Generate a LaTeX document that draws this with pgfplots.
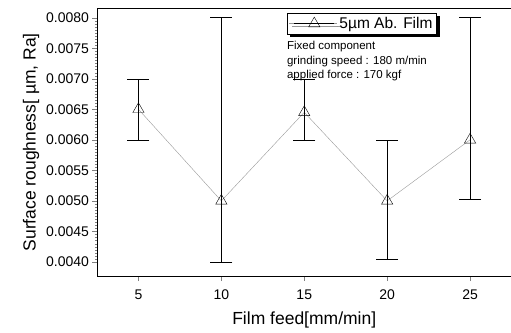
\documentclass[border=0pt]{standalone}
\usepackage{fontspec}
\setmainfont{Liberation Sans}
\usepackage{pgfplots}
\pgfplotsset{compat=1.18}
\usetikzlibrary{shadows}
\begin{document}
\begin{tikzpicture}
\begin{axis}[
  scale only axis, width=413.5pt, height=267.5pt,
  xmin=2.53, xmax=27.47, ymin=0.00377, ymax=0.00815,
  xtick={5,10,15,20,25},
  ytick={0.0040,0.0045,0.0050,0.0055,0.0060,0.0065,0.0070,0.0075,0.0080},
  minor y tick num=9,
  tick align=outside, xtick pos=left, ytick pos=left,
  major tick length=5pt, minor tick length=2.5pt,
  scaled y ticks=false,
  /pgf/number format/assume math mode=true,
  yticklabel style={/pgf/number format/.cd, fixed, fixed zerofill, precision=4, /tikz/.cd},
  xticklabel style={yshift=-5pt},
  ticklabel style={font=\fontsize{14}{14}\selectfont},
  xlabel={Film feed[mm/min]}, ylabel={Surface roughness[ µm, Ra]},
  xlabel style={yshift=-6pt},
  label style={font=\fontsize{17.5}{17.5}\selectfont},
  legend style={at={(rel axis cs:0.458,0.983)}, anchor=north west, draw=black, fill=white,
    drop shadow={shadow xshift=3pt, shadow yshift=-3pt, fill=black, opacity=1},
    font=\fontsize{15.5}{15.5}\selectfont, inner ysep=2pt, inner xsep=2pt},
  legend image code/.code={%
    \path (-2pt,0pt) -- (46pt,0pt);
    \draw[#1, draw=black, mark repeat=2, mark phase=2] plot coordinates {(3pt,0pt) (23pt,0pt) (43pt,0pt)};},
]
\addplot[gray!80, thin, mark=triangle, mark size=6.5pt, mark options={black, solid, fill=none},
  error bars/.cd, y dir=both, y explicit,
  error bar style={black, thin},
  error mark options={black, rotate=90, mark size=11pt}]
coordinates {
(5,0.0065) += (0,0.0005) -= (0,0.0005)
(10,0.0050) += (0,0.0030) -= (0,0.0010)
(15,0.00645) += (0,0.00055) -= (0,0.00045)
(20,0.0050) += (0,0.0010) -= (0,0.00095)
(25,0.0060) += (0,0.0020) -= (0,0.00098)
};
\addlegendentry{5µm Ab. Film}
\node[anchor=north west, align=left, font=\fontsize{11.5}{14.5}\selectfont, inner sep=0pt]
  at (rel axis cs:0.458,0.878) {Fixed component\\grinding speed : 180 m/min\\applied force : 170 kgf};
\end{axis}
\pgfresetboundingbox
\path[use as bounding box] (-97.5pt,-56pt) rectangle (413.5pt,276pt);
\end{tikzpicture}
\end{document}
